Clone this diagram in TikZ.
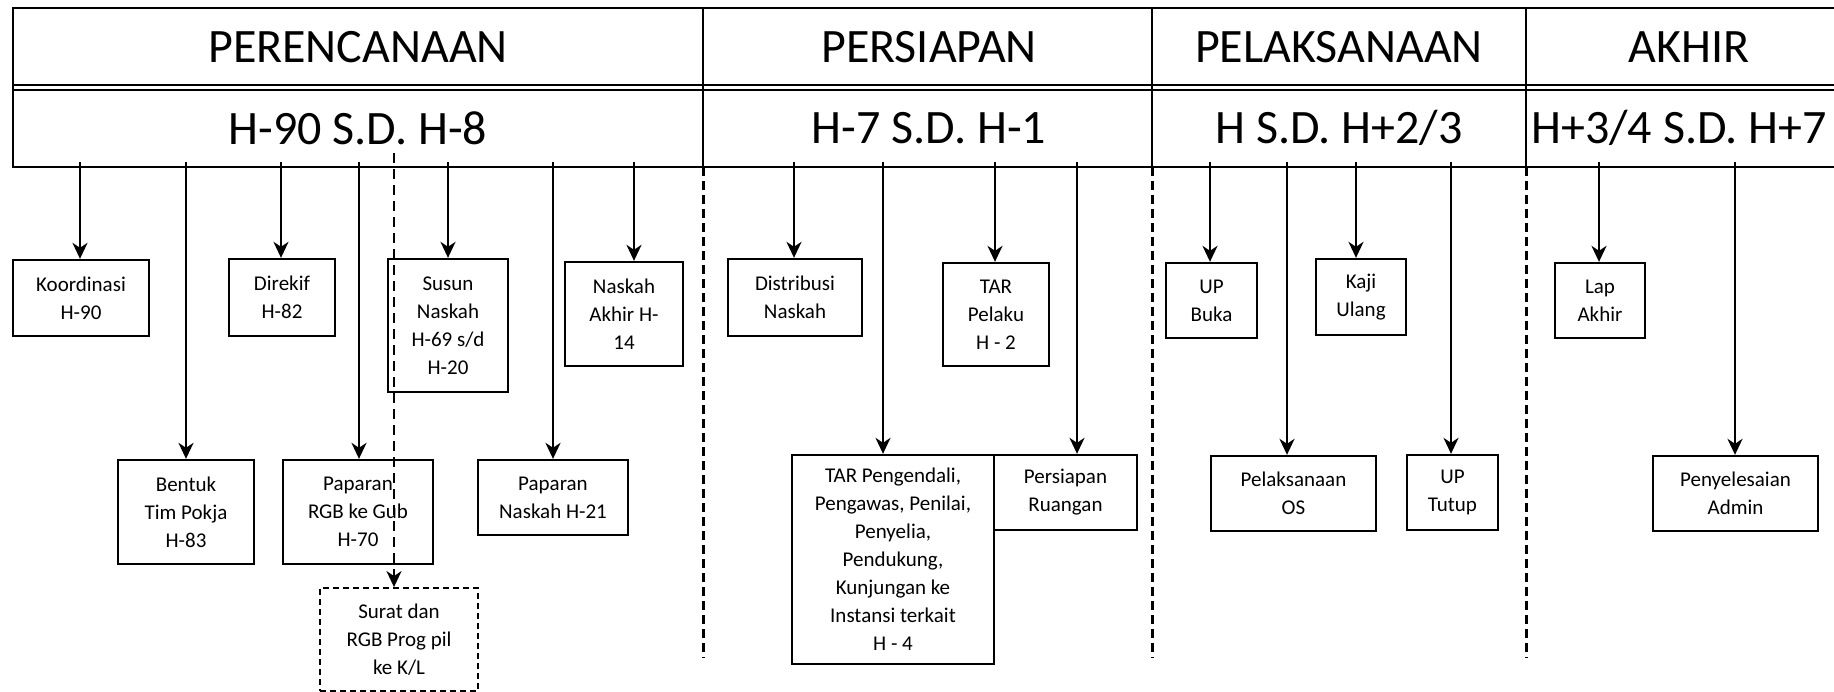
\documentclass[tikz,border=0pt]{standalone}
\usepackage{fontspec}
\setmainfont{Carlito}
\usetikzlibrary{arrows.meta}

\begin{document}
\begin{tikzpicture}[x=1pt,y=-1pt,
  box/.style={draw, line width=2.3pt, inner sep=0pt, align=center,
    font=\fontsize{21}{28}\selectfont},
  dbox/.style={box, line width=1.8pt, dash pattern=on 6pt off 4pt},
  arr/.style={line width=2.4pt, -{Stealth[length=16pt,width=15pt,inset=5pt]}},
  darr/.style={line width=2.3pt, dash pattern=on 10pt off 6pt,
    -{Stealth[length=16pt,width=15pt,inset=5pt]}},
  divider/.style={line width=3pt, dash pattern=on 9pt off 5pt},
  hdr/.style={font=\fontsize{48}{56}\selectfont, inner sep=0pt}]

\useasboundingbox (0,0) rectangle (1834,692);
\clip (0,0) rectangle (1834,692);

% header frame with double rule between phase names and time ranges
\draw[line width=2.6pt] (13,8) rectangle (1880,167);
\draw[line width=2.4pt] (13,85) -- (1880,85);
\draw[line width=1.8pt] (13,90) -- (1880,90);

% phase separators: solid in the header, dashed below it
\foreach \x in {703,1152,1526}{
  \draw[line width=2.8pt] (\x,8) -- (\x,167);
  \draw[divider] (\x,167) -- (\x,658);
}

% phase names and time ranges
\node[hdr] (p1) at (358,47) {PERENCANAAN};
\node[hdr] (p2) at (929,47) {PERSIAPAN};
\node[hdr] (p3) at (1339,47) {PELAKSANAAN};
\node[hdr] (p4) at (1689,47) {AKHIR};
\node[hdr] (r1) at (358,128) {H-90 S.D. H-8};
\node[hdr] (r2) at (929,128) {H-7 S.D. H-1};
\node[hdr] (r3) at (1339,128) {H S.D. H+2/3};
\node[hdr] (r4) at (1679,128) {H+3/4 S.D. H+7};

% activity boxes
\node[box, minimum width=136pt, minimum height=76pt] (koord) at (81,298) {Koordinasi\\H-90};
\node[box, minimum width=136pt, minimum height=104pt] (bentuk) at (186,512) {Bentuk\\Tim Pokja\\H-83};
\node[box, minimum width=106pt, minimum height=77pt] (direkif) at (282,297.5) {Direkif\\H-82};
\node[box, minimum width=150pt, minimum height=104pt] (papgub) at (358,512) {Paparan\\RGB ke Gub\\H-70};
\node[box, minimum width=120pt, minimum height=133pt] (susun) at (448,325.5) {Susun\\Naskah\\H-69 s/d\\H-20};
\node[box, minimum width=118pt, minimum height=104pt] (nakhir) at (624,314) {Naskah\\Akhir H-\\14};
\node[box, minimum width=150pt, minimum height=75pt] (papnas) at (553,497.5) {Paparan\\Naskah H-21};
\node[dbox, minimum width=158pt, minimum height=103pt] (surat) at (399,639.5) {Surat dan\\RGB Prog pil\\ke K/L};

\node[box, minimum width=134pt, minimum height=77pt] (distr) at (795,297.5) {Distribusi\\Naskah};
\node[box, minimum width=106pt, minimum height=103pt] (tarpel) at (996,314.5) {TAR\\Pelaku\\H - 2};
\node[box, minimum width=202pt, minimum height=209pt] (tarpeng) at (893,559.5) {TAR Pengendali,\\Pengawas, Penilai,\\Penyelia,\\Pendukung,\\Kunjungan ke\\Instansi terkait\\H - 4};
\node[box, minimum width=143pt, minimum height=75pt] (ruang) at (1065.5,492.5) {Persiapan\\Ruangan};

\node[box, minimum width=91pt, minimum height=75pt] (upbuka) at (1211.5,300.5) {UP\\Buka};
\node[box, minimum width=165pt, minimum height=75pt] (os) at (1293.5,493.5) {Pelaksanaan\\OS};
\node[box, minimum width=90pt, minimum height=76pt] (kaji) at (1361,297) {Kaji\\Ulang};
\node[box, minimum width=91pt, minimum height=75pt] (tutup) at (1452.5,492.5) {UP\\Tutup};

\node[box, minimum width=90pt, minimum height=75pt] (lap) at (1600,300.5) {Lap\\Akhir};
\node[box, minimum width=165pt, minimum height=75pt] (admin) at (1735.5,493.5) {Penyelesaian\\Admin};

% arrow origins on the header's lower edge
\coordinate (s1) at (80,162);
\coordinate (s2) at (186,162);
\coordinate (s3) at (281,162);
\coordinate (s4) at (359,162);
\coordinate (s5) at (448,162);
\coordinate (s6) at (553,162);
\coordinate (s7) at (634,162);
\coordinate (s8) at (794,162);
\coordinate (s9) at (883,162);
\coordinate (s10) at (995,162);
\coordinate (s11) at (1077,162);
\coordinate (s12) at (1210,162);
\coordinate (s13) at (1287,162);
\coordinate (s14) at (1356,162);
\coordinate (s15) at (1451,162);
\coordinate (s16) at (1599,162);
\coordinate (s17) at (1735,162);
\coordinate (s18) at (394,153);

\draw[arr] (s1) -- (s1 |- koord.north);
\draw[arr] (s2) -- (s2 |- bentuk.north);
\draw[arr] (s3) -- (s3 |- direkif.north);
\draw[arr] (s4) -- (s4 |- papgub.north);
\draw[arr] (s5) -- (s5 |- susun.north);
\draw[arr] (s6) -- (s6 |- papnas.north);
\draw[arr] (s7) -- (s7 |- nakhir.north);
\draw[arr] (s8) -- (s8 |- distr.north);
\draw[arr] (s9) -- (s9 |- tarpeng.north);
\draw[arr] (s10) -- (s10 |- tarpel.north);
\draw[arr] (s11) -- (s11 |- ruang.north);
\draw[arr] (s12) -- (s12 |- upbuka.north);
\draw[arr] (s13) -- (s13 |- os.north);
\draw[arr] (s14) -- (s14 |- kaji.north);
\draw[arr] (s15) -- (s15 |- tutup.north);
\draw[arr] (s16) -- (s16 |- lap.north);
\draw[arr] (s17) -- (s17 |- admin.north);

% dashed link running over the boxes down to the letter box
\draw[darr] (s18) -- (s18 |- surat.north);

\end{tikzpicture}
\end{document}
